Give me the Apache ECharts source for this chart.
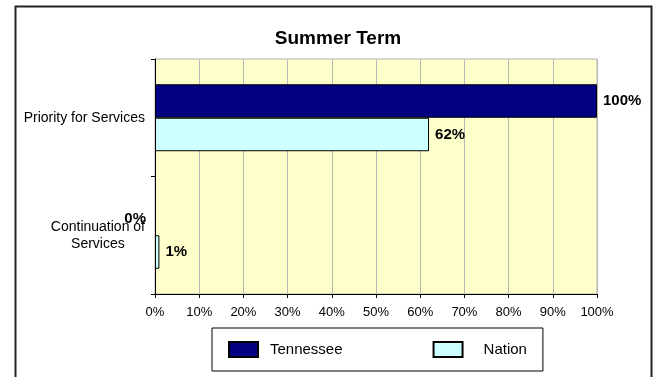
<!DOCTYPE html>
<html>
<head>
<meta charset="utf-8">
<script src="https://cdn.jsdelivr.net/npm/echarts@6/dist/echarts.min.js"></script>
<style>html,body{margin:0;padding:0;background:#fff;}#c{width:656px;height:377px;}</style>
</head>
<body>
<div id="c"></div>
<script>
const title = 'Summer Term';
const categories = ['Priority for Services', 'Continuation of\nServices'];
const seriesNames = ['Tennessee', 'Nation'];
const tennessee = [100, 0];
const nation = [62, 1];
const xTicks = [0, 10, 20, 30, 40, 50, 60, 70, 80, 90, 100];

const FONT = 'Liberation Sans, Arial, sans-serif';
const chart = echarts.init(document.getElementById('c'), null, {renderer: 'canvas'});

function labelFor(values) {
  return values.map(v => v === 0 ? {
    value: v,
    itemStyle: {borderWidth: 0},
    label: {position: 'left', distance: 9}
  } : {value: v});
}

chart.setOption({
  animation: false,
  backgroundColor: '#fff',
  title: {
    text: title,
    left: 333, top: 24, textAlign: 'center',
    textStyle: {fontFamily: FONT, fontSize: 19, fontWeight: 'bold', color: '#000'}
  },
  graphic: [{
    type: 'rect', left: 13, top: 4, silent: true,
    shape: {width: 636, height: 390},
    style: {fill: 'none', stroke: '#222', lineWidth: 2}
  }],
  grid: {
    left: 155, top: 59, width: 442, height: 235,
    show: true, backgroundColor: '#FFFFCC', borderColor: '#b0b0b0', borderWidth: 1
  },
  legend: {
    left: 212, top: 328,
    data: [
      {name: 'Tennessee'},
      {name: 'Nation', textStyle: {padding: [2, 0, 0, 16]}}
    ],
    itemWidth: 29, itemHeight: 15, itemGap: 90,
    padding: [13, 16, 13, 16],
    borderColor: '#000', borderWidth: 1,
    icon: 'rect',
    textStyle: {fontFamily: FONT, fontSize: 15, color: '#000', padding: [0, 0, 0, 7]}
  },
  xAxis: {
    type: 'value', min: 0, max: 100, interval: 10,
    axisLine: {show: true, lineStyle: {color: '#000'}},
    axisTick: {show: true, length: 4, lineStyle: {color: '#000'}},
    splitLine: {show: true, lineStyle: {color: '#b8b8b8'}},
    axisLabel: {
      fontFamily: FONT, fontSize: 13, color: '#000', margin: 12,
      formatter: v => xTicks.includes(v) ? v + '%' : ''
    }
  },
  yAxis: {
    type: 'category', data: categories, inverse: true,
    axisLine: {show: true, lineStyle: {color: '#000'}},
    axisTick: {show: true, length: 4, lineStyle: {color: '#000'}},
    axisLabel: {
      fontFamily: FONT, fontSize: 14, color: '#000', margin: 10, lineHeight: 17,
      formatter: v => v.split('\n').map(s => '{c|' + s + '}').join('\n'),
      rich: {c: {fontFamily: FONT, fontSize: 14, color: '#000', align: 'center', lineHeight: 17}}
    }
  },
  series: [
    {
      name: seriesNames[0], type: 'bar', data: labelFor(tennessee),
      barGap: '0%', barCategoryGap: '43%',
      itemStyle: {color: '#000080', borderColor: '#000', borderWidth: 1},
      label: {show: true, position: 'right', distance: 6, formatter: p => p.value + '%',
        fontFamily: FONT, fontSize: 15, fontWeight: 'bold', color: '#000'}
    },
    {
      name: seriesNames[1], type: 'bar', data: labelFor(nation),
      barGap: '0%', barCategoryGap: '43%',
      itemStyle: {color: '#CCFFFF', borderColor: '#000', borderWidth: 1},
      label: {show: true, position: 'right', distance: 6, formatter: p => p.value + '%',
        fontFamily: FONT, fontSize: 15, fontWeight: 'bold', color: '#000'}
    }
  ]
});
</script>
</body>
</html>
